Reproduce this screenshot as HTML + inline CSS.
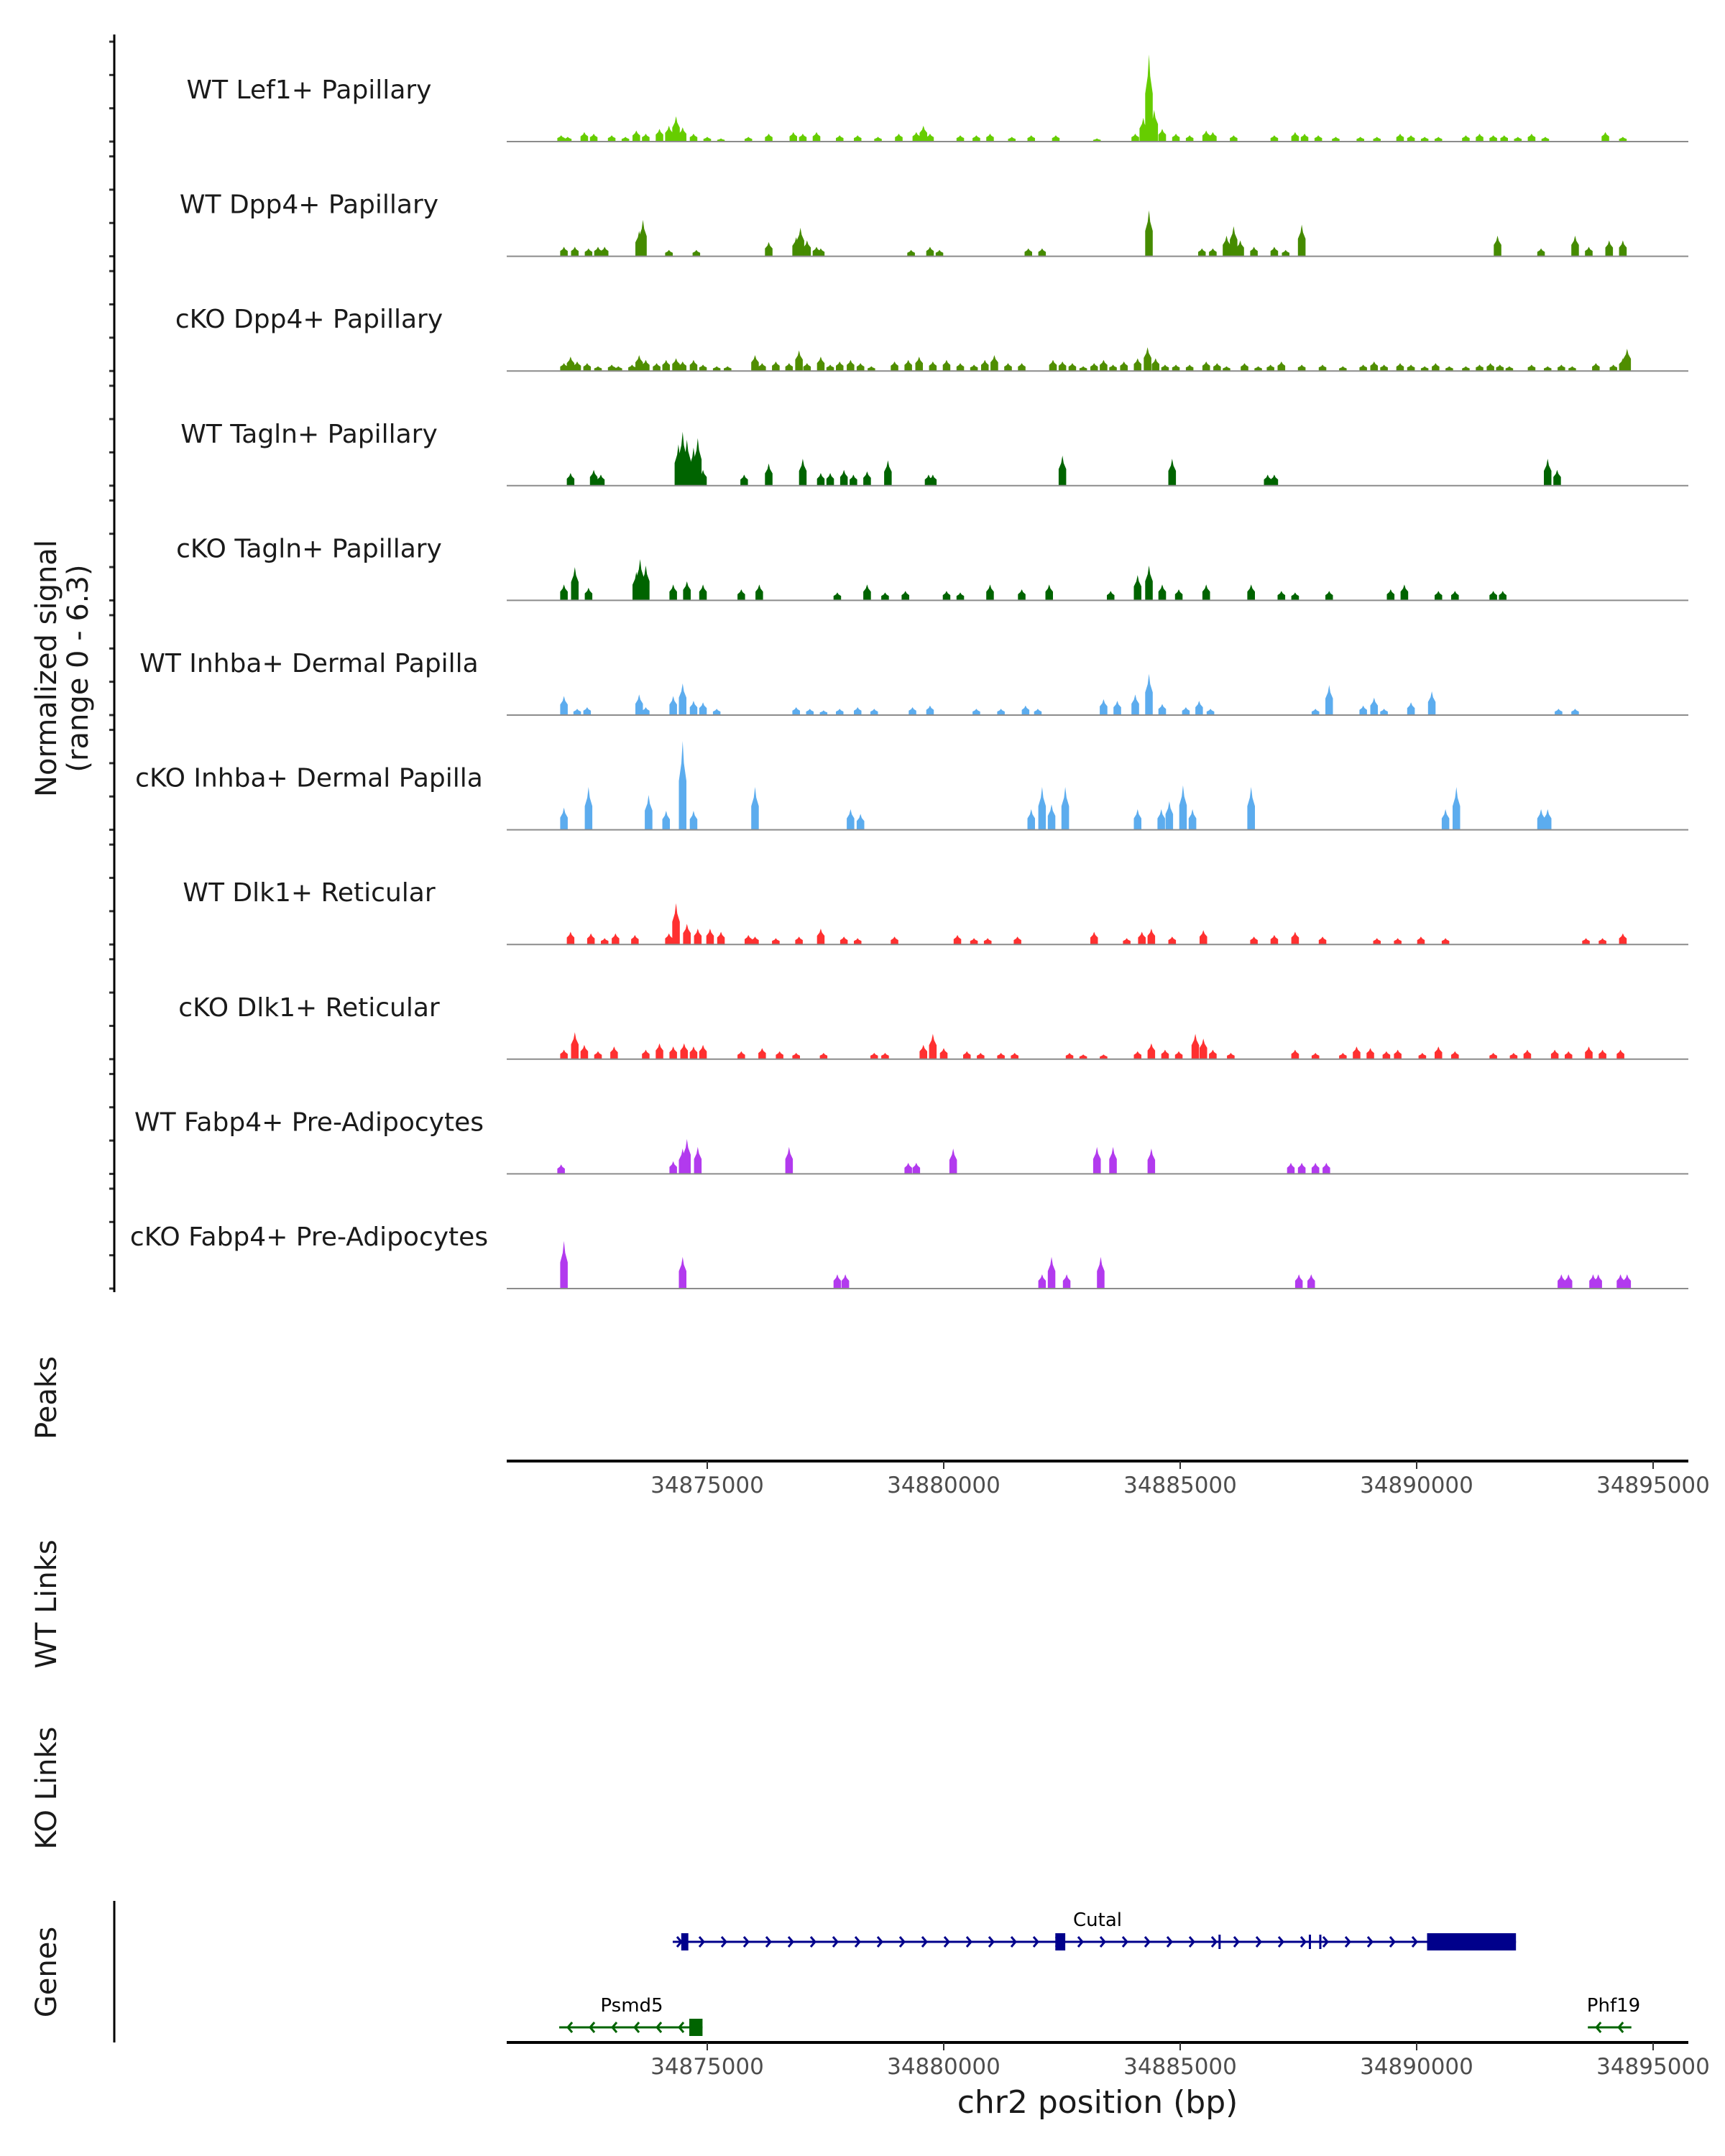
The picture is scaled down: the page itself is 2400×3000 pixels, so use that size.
<!DOCTYPE html>
<html><head><meta charset="utf-8"><style>
html,body{margin:0;padding:0;background:#fff;}
svg{display:block;font-family:"DejaVu Sans","Liberation Sans",sans-serif;}
</style></head><body>
<svg id="chart" width="2400" height="3000" viewBox="0 0 2400 3000" xmlns="http://www.w3.org/2000/svg">
<g id="tracks"></g>
<g id="axes"></g>
<g id="genes"></g>
<text transform="translate(78,930) rotate(-90)" text-anchor="middle" font-size="40" fill="#1a1a1a">Normalized signal</text>
<text transform="translate(122,930) rotate(-90)" text-anchor="middle" font-size="40" fill="#1a1a1a">(range 0 - 6.3)</text>
<text transform="translate(78,1945) rotate(-90)" text-anchor="middle" font-size="40" fill="#1a1a1a">Peaks</text>
<text transform="translate(78,2232) rotate(-90)" text-anchor="middle" font-size="40" fill="#1a1a1a">WT Links</text>
<text transform="translate(78,2488) rotate(-90)" text-anchor="middle" font-size="40" fill="#1a1a1a">KO Links</text>
<text transform="translate(78,2744) rotate(-90)" text-anchor="middle" font-size="40" fill="#1a1a1a">Genes</text>
<text x="1527" y="2940" text-anchor="middle" font-size="44" fill="#1a1a1a">chr2 position (bp)</text>
</svg>
<script>
const trackNames = ["WT Lef1+ Papillary","WT Dpp4+ Papillary","cKO Dpp4+ Papillary","WT Tagln+ Papillary","cKO Tagln+ Papillary","WT Inhba+ Dermal Papilla","cKO Inhba+ Dermal Papilla","WT Dlk1+ Reticular","cKO Dlk1+ Reticular","WT Fabp4+ Pre-Adipocytes","cKO Fabp4+ Pre-Adipocytes"];
const trackColors = ["#66CD00","#458B00","#4F8E00","#006400","#006400","#5CACEE","#5CACEE","#FF3030","#FF3030","#B23AEE","#B23AEE"];
const xTicks = [34875000,34880000,34885000,34890000,34895000];
const yMax = 6.3;
// peaks: [position kb, value]
const t1 = [[34871.91,0.4],[34872.05,0.3],[34872.40,0.6],[34872.60,0.5],[34872.98,0.4],[34873.27,0.3],[34873.50,0.7],[34873.70,0.5],[34873.99,0.8],[34874.19,1.0],[34874.34,1.6],[34874.48,0.9],[34874.71,0.5],[34875.00,0.3],[34875.29,0.2],[34875.87,0.3],[34876.30,0.5],[34876.82,0.6],[34877.02,0.5],[34877.31,0.6],[34877.80,0.4],[34878.18,0.4],[34878.61,0.3],[34879.05,0.5],[34879.42,0.6],[34879.57,1.0],[34879.71,0.5],[34880.35,0.4],[34880.69,0.4],[34880.98,0.5],[34881.44,0.3],[34881.85,0.4],[34882.37,0.4],[34883.24,0.2],[34884.05,0.5],[34884.22,1.5],[34884.34,5.5],[34884.45,2.0],[34884.62,0.8],[34884.91,0.5],[34885.20,0.4],[34885.55,0.7],[34885.69,0.6],[34886.13,0.4],[34886.99,0.4],[34887.43,0.6],[34887.63,0.5],[34887.92,0.4],[34888.29,0.3],[34888.81,0.3],[34889.16,0.3],[34889.65,0.5],[34889.88,0.4],[34890.17,0.3],[34890.46,0.3],[34891.04,0.4],[34891.33,0.5],[34891.62,0.4],[34891.85,0.4],[34892.14,0.3],[34892.43,0.5],[34892.72,0.3],[34893.99,0.6],[34894.36,0.3]];
const t2 = [[34871.97,0.6],[34872.20,0.6],[34872.49,0.5],[34872.69,0.6],[34872.83,0.6],[34873.56,1.6],[34873.64,2.3],[34874.19,0.4],[34874.77,0.4],[34876.30,0.9],[34876.88,1.2],[34876.97,1.8],[34877.11,1.0],[34877.31,0.6],[34877.40,0.5],[34879.31,0.4],[34879.71,0.6],[34879.91,0.4],[34881.79,0.5],[34882.08,0.5],[34884.34,2.9],[34885.46,0.5],[34885.69,0.5],[34885.98,1.3],[34886.13,1.9],[34886.27,1.0],[34886.56,0.6],[34886.99,0.6],[34887.23,0.4],[34887.57,2.0],[34891.71,1.3],[34892.63,0.5],[34893.35,1.3],[34893.64,0.6],[34894.07,1.0],[34894.36,1.0]];
const t3 = [[34871.97,0.5],[34872.11,0.9],[34872.25,0.6],[34872.46,0.5],[34872.69,0.3],[34872.98,0.4],[34873.12,0.3],[34873.41,0.4],[34873.56,1.0],[34873.70,0.7],[34873.93,0.5],[34874.13,0.7],[34874.34,0.8],[34874.48,0.6],[34874.71,0.7],[34874.91,0.4],[34875.20,0.3],[34875.43,0.3],[34876.01,1.0],[34876.16,0.5],[34876.45,0.6],[34876.73,0.5],[34876.94,1.3],[34877.11,0.5],[34877.40,0.9],[34877.60,0.4],[34877.80,0.6],[34878.03,0.7],[34878.24,0.5],[34878.47,0.3],[34878.96,0.6],[34879.25,0.7],[34879.48,0.9],[34879.77,0.6],[34880.06,0.7],[34880.35,0.5],[34880.64,0.4],[34880.87,0.7],[34881.07,1.0],[34881.36,0.5],[34881.65,0.5],[34882.31,0.7],[34882.51,0.6],[34882.72,0.5],[34882.95,0.3],[34883.18,0.5],[34883.38,0.7],[34883.58,0.4],[34883.81,0.6],[34884.10,0.8],[34884.31,1.5],[34884.48,0.8],[34884.68,0.4],[34884.91,0.4],[34885.20,0.4],[34885.55,0.6],[34885.78,0.5],[34885.98,0.3],[34886.36,0.5],[34886.65,0.3],[34886.91,0.4],[34887.14,0.6],[34887.57,0.4],[34888.01,0.4],[34888.44,0.3],[34888.87,0.4],[34889.10,0.6],[34889.31,0.4],[34889.65,0.5],[34889.88,0.4],[34890.17,0.3],[34890.40,0.5],[34890.69,0.3],[34891.04,0.3],[34891.33,0.4],[34891.56,0.5],[34891.76,0.4],[34891.96,0.3],[34892.43,0.4],[34892.77,0.3],[34893.06,0.4],[34893.29,0.3],[34893.79,0.5],[34894.16,0.4],[34894.36,0.8],[34894.45,1.4]];
const t4 = [[34872.11,0.8],[34872.60,1.0],[34872.75,0.7],[34874.39,2.6],[34874.48,3.4],[34874.57,2.9],[34874.71,2.4],[34874.80,3.0],[34874.91,1.0],[34875.78,0.7],[34876.30,1.4],[34877.02,1.7],[34877.40,0.8],[34877.60,0.8],[34877.89,1.0],[34878.09,0.7],[34878.38,0.9],[34878.82,1.6],[34879.68,0.7],[34879.77,0.7],[34882.51,1.9],[34884.83,1.7],[34886.85,0.7],[34886.99,0.7],[34892.77,1.7],[34892.97,1.0]];
const t5 = [[34871.97,1.0],[34872.20,2.1],[34872.49,0.8],[34873.50,1.8],[34873.58,2.6],[34873.70,2.2],[34874.28,1.0],[34874.57,1.2],[34874.91,1.0],[34875.72,0.7],[34876.10,1.0],[34877.75,0.5],[34878.38,1.0],[34878.76,0.5],[34879.19,0.6],[34880.06,0.6],[34880.35,0.5],[34880.98,1.0],[34881.65,0.7],[34882.23,1.0],[34883.53,0.6],[34884.10,1.6],[34884.34,2.2],[34884.62,1.0],[34884.97,0.7],[34885.55,1.0],[34886.50,1.0],[34887.14,0.6],[34887.43,0.5],[34888.15,0.6],[34889.45,0.7],[34889.74,1.0],[34890.46,0.6],[34890.81,0.6],[34891.62,0.6],[34891.82,0.6]];
const t6 = [[34871.97,1.2],[34872.25,0.4],[34872.46,0.5],[34873.56,1.3],[34873.70,0.5],[34874.28,1.2],[34874.48,2.0],[34874.71,0.9],[34874.91,0.8],[34875.20,0.4],[34876.88,0.5],[34877.17,0.4],[34877.46,0.3],[34877.80,0.4],[34878.18,0.5],[34878.53,0.4],[34879.34,0.5],[34879.71,0.6],[34880.69,0.4],[34881.21,0.4],[34881.73,0.6],[34881.99,0.4],[34883.38,1.0],[34883.67,0.9],[34884.05,1.3],[34884.34,2.6],[34884.62,0.7],[34885.12,0.5],[34885.40,0.9],[34885.64,0.4],[34887.86,0.4],[34888.15,1.9],[34888.87,0.6],[34889.10,1.1],[34889.31,0.4],[34889.88,0.8],[34890.32,1.5],[34893.00,0.4],[34893.35,0.4]];
const t7 = [[34871.97,1.4],[34872.49,2.7],[34873.76,2.2],[34874.13,1.2],[34874.48,5.6],[34874.71,1.2],[34876.01,2.7],[34878.03,1.3],[34878.24,1.0],[34881.85,1.3],[34882.08,2.7],[34882.28,1.6],[34882.57,2.7],[34884.10,1.3],[34884.60,1.3],[34884.77,1.8],[34885.06,2.8],[34885.26,1.3],[34886.50,2.7],[34890.61,1.3],[34890.84,2.7],[34892.63,1.3],[34892.77,1.3]];
const t8 = [[34872.11,0.8],[34872.54,0.7],[34872.83,0.4],[34873.06,0.7],[34873.47,0.6],[34874.19,0.7],[34874.34,2.6],[34874.57,1.3],[34874.80,1.0],[34875.06,1.0],[34875.29,0.8],[34875.87,0.6],[34876.01,0.5],[34876.45,0.4],[34876.94,0.5],[34877.40,1.0],[34877.89,0.5],[34878.18,0.4],[34878.96,0.5],[34880.29,0.6],[34880.64,0.4],[34880.93,0.4],[34881.56,0.5],[34883.18,0.8],[34883.87,0.4],[34884.19,0.8],[34884.39,1.0],[34884.83,0.5],[34885.49,0.9],[34886.56,0.5],[34886.99,0.6],[34887.43,0.8],[34888.01,0.5],[34889.16,0.4],[34889.60,0.4],[34890.09,0.5],[34890.61,0.4],[34893.58,0.4],[34893.93,0.4],[34894.36,0.7]];
const t9 = [[34871.97,0.6],[34872.20,1.7],[34872.40,0.9],[34872.69,0.5],[34873.03,0.8],[34873.70,0.6],[34873.99,1.0],[34874.28,0.8],[34874.51,1.0],[34874.71,0.8],[34874.91,0.9],[34875.72,0.5],[34876.16,0.7],[34876.53,0.5],[34876.88,0.4],[34877.46,0.4],[34878.53,0.4],[34878.76,0.4],[34879.57,0.9],[34879.77,1.6],[34880.00,0.7],[34880.49,0.5],[34880.78,0.4],[34881.21,0.4],[34881.50,0.4],[34882.66,0.4],[34882.95,0.3],[34883.38,0.3],[34884.10,0.5],[34884.39,1.0],[34884.68,0.6],[34884.97,0.5],[34885.32,1.6],[34885.49,1.3],[34885.69,0.6],[34886.07,0.4],[34887.43,0.6],[34887.86,0.4],[34888.44,0.4],[34888.73,0.8],[34889.02,0.7],[34889.36,0.5],[34889.60,0.6],[34890.12,0.4],[34890.46,0.8],[34890.81,0.5],[34891.62,0.4],[34892.05,0.4],[34892.34,0.6],[34892.92,0.6],[34893.21,0.5],[34893.64,0.8],[34893.93,0.6],[34894.31,0.6]];
const t10 = [[34871.91,0.6],[34874.28,0.8],[34874.48,1.6],[34874.57,2.2],[34874.80,1.7],[34876.73,1.7],[34879.25,0.7],[34879.42,0.7],[34880.20,1.6],[34883.24,1.7],[34883.58,1.7],[34884.39,1.6],[34887.34,0.7],[34887.57,0.7],[34887.86,0.7],[34888.09,0.7]];
const t11 = [[34871.97,3.0],[34874.48,2.0],[34877.75,0.9],[34877.92,0.9],[34882.08,0.9],[34882.28,2.0],[34882.60,0.9],[34883.32,2.0],[34887.51,0.9],[34887.77,0.9],[34893.06,0.9],[34893.21,0.9],[34893.73,0.9],[34893.84,0.9],[34894.31,0.9],[34894.45,0.9]];
const trackData = [t1,t2,t3,t4,t5,t6,t7,t8,t9,t10,t11];
// genes
const geneNames = ["Cutal","Psmd5","Phf19"];
const geneStarts = [34874.27,34871.87,34893.62];
const geneEnds = [34892.10,34874.90,34894.54];
const geneStrand = [1,-1,-1];
// exons: [gene index, start kb, end kb]
const exons = [[0,34874.45,34874.60],[0,34882.36,34882.57],[0,34885.81,34885.85],[0,34887.72,34887.76],[0,34887.94,34887.98],[0,34890.22,34892.10],[1,34874.62,34874.90]];

const NS="http://www.w3.org/2000/svg";
function mk(tag,attrs,parent){const e=document.createElementNS(NS,tag);for(const k in attrs)e.setAttribute(k,attrs[k]);parent.appendChild(e);return e;}
const X0=705,X1=2349;
function xs(kb){return 984+(kb-34875)*65.8;}
function base(i){return 197+i*159.6;}
function ys(i,v){return base(i)-v*139/yMax;}
const tracksG=document.getElementById('tracks');
const axesG=document.getElementById('axes');
const genesG=document.getElementById('genes');
const hw=0.08;
trackNames.forEach((nm,i)=>{
  const g=mk('g',{},tracksG);
  
  
  const lab=mk('text',{x:430,y:base(i)-60,'text-anchor':'middle','font-size':36,fill:'#1a1a1a'},g);
  lab.textContent=nm;
  
  
  trackData[i].forEach(p=>{
    const c=p[0],v=p[1],b=base(i);
    const pts=[[xs(c-hw),b],[xs(c-hw),ys(i,v*0.55)],[xs(c-hw/3),ys(i,v*0.75)],[xs(c),ys(i,v)],[xs(c+hw/3),ys(i,v*0.75)],[xs(c+hw),ys(i,v*0.55)],[xs(c+hw),b]];
    const pg=mk('polygon',{points:pts.map(q=>q[0].toFixed(1)+','+q[1].toFixed(1)).join(' '),fill:trackColors[i]},g);
    
    
  });
  const bl=mk('line',{x1:X0,x2:X1,y1:base(i),y2:base(i),stroke:'#8c8c8c','stroke-width':2},g);
  
  
  [0,2.1,4.2,6.3].forEach(t=>{
    const tk=mk('line',{x1:152,x2:159,y1:ys(i,t),y2:ys(i,t),stroke:'#333','stroke-width':3},axesG);
    
    
  });
});
const ya=mk('line',{x1:159,x2:159,y1:48,y2:1798,stroke:'#000','stroke-width':3},axesG);


const ga=mk('line',{x1:159,x2:159,y1:2645,y2:2842,stroke:'#000','stroke-width':3},axesG);


[2033,2842].forEach((yy,k)=>{
  const ax=mk('line',{x1:X0,x2:X1,y1:yy,y2:yy,stroke:'#000','stroke-width':4},axesG);
  
  
  xTicks.forEach(t=>{
    const xx=xs(t/1000);
    const tk=mk('line',{x1:xx,x2:xx,y1:yy,y2:yy+11,stroke:'#333','stroke-width':2},axesG);
    
    
    const tl=mk('text',{x:xx,y:yy+44,'text-anchor':'middle','font-size':31,fill:'#4d4d4d'},axesG);
    tl.textContent=t;
    
    
  });
});
const geneY=[2702,2821,2821];
const geneCol=['#00008B','#006400','#006400'];
const geneLabelX=[1527,879,2245];
geneNames.forEach((nm,i)=>{
  const g=mk('g',{},genesG);
  
  
  const y=geneY[i],a=xs(geneStarts[i]),b=xs(geneEnds[i]),col=geneCol[i];
  mk('line',{x1:a,x2:b,y1:y,y2:y,stroke:col,'stroke-width':3},g);
  for(let x=a+12;x<b-6;x+=31){
    const d=geneStrand[i];
    mk('polyline',{points:`${x-6*d},${y-7} ${x},${y} ${x-6*d},${y+7}`,fill:'none',stroke:col,'stroke-width':3},g);
  }
  const lab=mk('text',{x:geneLabelX[i],y:y-22,'text-anchor':'middle','font-size':26,fill:'#000'},g);
  lab.textContent=nm;
  
  
});
exons.forEach(e=>{
  const y=geneY[e[0]],a=xs(e[1]),b=xs(e[2]);
  const big=(b-a)>8;
  const r=mk('rect',{x:a,y:y-(big?12:10),width:Math.max(b-a,3),height:big?24:20,fill:geneCol[e[0]]},genesG);
  
  
});
</script>
</body></html>
